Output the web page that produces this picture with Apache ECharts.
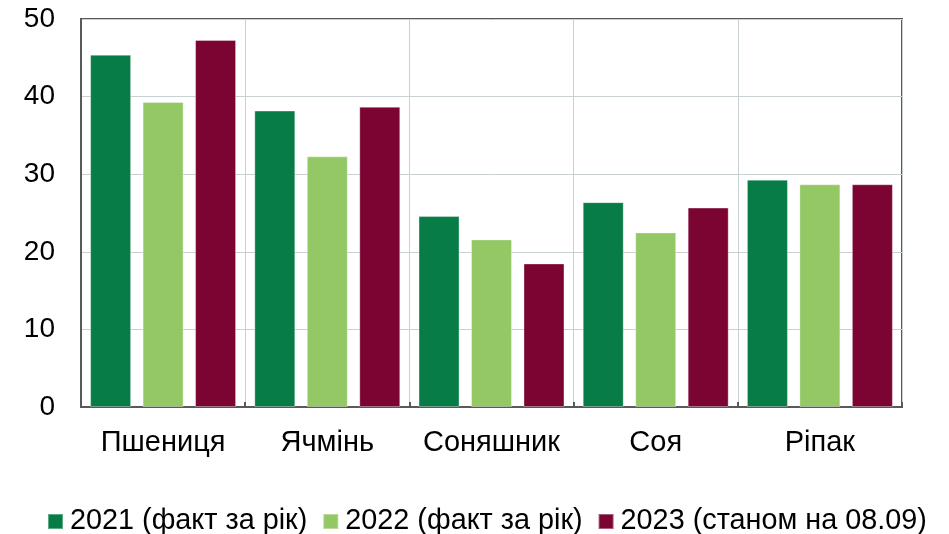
<!DOCTYPE html>
<html>
<head>
<meta charset="utf-8">
<title>Урожайність</title>
<script src="https://cdn.jsdelivr.net/npm/echarts@6/dist/echarts.min.js"></script>
<style>
  html, body { margin: 0; padding: 0; background: #fff; }
  #chart { width: 949px; height: 534px; }
</style>
</head>
<body>
<div id="chart"></div>
<script>
// дані
const crops = ['Пшениця', 'Ячмінь', 'Соняшник', 'Соя', 'Ріпак']
const seriesNames = ['2021 (факт за рік)', '2022 (факт за рік)', '2023 (станом на 08.09)']
const y2021 = [45.4, 38.2, 24.6, 26.4, 29.3]
const y2022 = [39.3, 32.3, 21.6, 22.5, 28.7]
const y2023 = [47.3, 38.7, 18.5, 25.7, 28.7]
const colors = ['#077C46', '#93C864', '#7B0432']

const font = 'Arial, "Liberation Sans", sans-serif'
const myChart = echarts.init(document.getElementById('chart'))

const makeBar = (name, data, color) => ({
  name: name,
  type: 'bar',
  data: data,
  barWidth: 41,
  barGap: '28%',
  itemStyle: {
    color: color,
    borderColor: 'rgba(255,255,255,0.35)',
    borderWidth: 1
  }
})

const option = {
  animation: false,
  textStyle: { fontFamily: font },
  grid: {
    left: 81,
    right: 47,
    top: 19,
    bottom: 127,
    show: true,
    borderColor: '#595959',
    borderWidth: 2
  },
  legend: {
    data: seriesNames,
    left: 42,
    top: 502,
    icon: 'rect',
    itemWidth: 15,
    itemHeight: 15,
    itemGap: 15,
    textStyle: { fontSize: 28.8, color: '#000', fontFamily: font, padding: [0, 0, 0, 2] }
  },
  xAxis: {
    type: 'category',
    data: crops,
    axisLine: { show: true, lineStyle: { color: '#595959', width: 2 } },
    axisTick: { show: true, inside: true, length: 5, interval: 0, lineStyle: { color: '#595959', width: 2 } },
    splitLine: { show: true, interval: 0, lineStyle: { color: '#c9d0d4', width: 1 } },
    axisLabel: { fontSize: 29, color: '#000', margin: 21, interval: 0, fontFamily: font }
  },
  yAxis: {
    type: 'value',
    min: 0,
    max: 50,
    interval: 10,
    axisLine: { show: true, lineStyle: { color: '#595959', width: 2 } },
    axisTick: { show: false },
    splitLine: { show: true, lineStyle: { color: '#c9d0d4', width: 1 } },
    axisLabel: { fontSize: 28, color: '#000', margin: 26, fontFamily: font }
  },
  series: [
    makeBar(seriesNames[0], y2021, colors[0]),
    makeBar(seriesNames[1], y2022, colors[1]),
    makeBar(seriesNames[2], y2023, colors[2])
  ]
}
myChart.setOption(option)
</script>
</body>
</html>
